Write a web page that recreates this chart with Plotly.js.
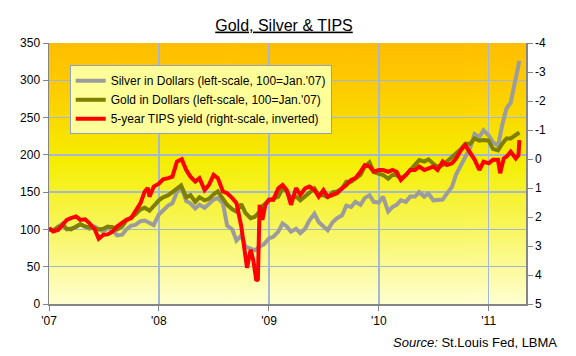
<!DOCTYPE html>
<html><head><meta charset="utf-8">
<script src="https://cdn.plot.ly/plotly-3.0.1.min.js"></script>
<style>html,body{margin:0;padding:0;background:#fff}#chart{width:576px;height:356px}</style>
</head><body><div id="chart"></div>
<script>
const metalDates = [
'2007-01-01','2007-01-15','2007-02-01','2007-02-15','2007-03-01','2007-03-15','2007-04-01','2007-04-15','2007-05-01','2007-05-15','2007-06-01','2007-06-15','2007-07-01','2007-07-15','2007-08-01','2007-08-15','2007-09-01','2007-09-15','2007-10-01','2007-10-15','2007-11-01','2007-11-15','2007-12-01','2007-12-15',
'2008-01-01','2008-01-15','2008-02-01','2008-02-15','2008-03-01','2008-03-15','2008-04-01','2008-04-15','2008-05-01','2008-05-15','2008-06-01','2008-06-15','2008-07-01','2008-07-15','2008-08-01','2008-08-15','2008-09-01','2008-09-15','2008-10-01','2008-10-15','2008-11-01','2008-11-15','2008-12-01','2008-12-15',
'2009-01-01','2009-01-15','2009-02-01','2009-02-15','2009-03-01','2009-03-15','2009-04-01','2009-04-15','2009-05-01','2009-05-15','2009-06-01','2009-06-15','2009-07-01','2009-07-15','2009-08-01','2009-08-15','2009-09-01','2009-09-15','2009-10-01','2009-10-15','2009-11-01','2009-11-15','2009-12-01','2009-12-15',
'2010-01-01','2010-01-15','2010-02-01','2010-02-15','2010-03-01','2010-03-15','2010-04-01','2010-04-15','2010-05-01','2010-05-15','2010-06-01','2010-06-15','2010-07-01','2010-07-15','2010-08-01','2010-08-15','2010-09-01','2010-09-15','2010-10-01','2010-10-15','2010-11-01','2010-11-15','2010-12-01','2010-12-15',
'2011-01-01','2011-01-15','2011-02-01','2011-02-15','2011-03-01','2011-03-15','2011-04-01','2011-04-13'];

const silverIndex = [
100,98,104,108,100,101,103,107,104,101,104,101,97,102,99,92,93,100,105,106,111,112,108,106,
120,125,132,135,150,157,138,135,128,133,129,134,140,142,135,105,100,85,92,77,75,72,77,80,
88,90,97,108,104,97,101,95,101,112,121,110,104,99,110,115,119,132,130,137,133,142,146,137,
136,144,124,130,133,139,137,144,144,150,144,148,139,139,140,148,157,174,186,199,210,228,224,233,
226,217,212,240,262,270,300,326];

const goldIndex = [
100,99,103,105,101,100,104,107,104,103,101,100,101,104,103,100,104,112,116,120,127,129,125,132,
139,143,146,150,155,159,143,146,137,143,139,141,147,151,141,133,127,124,134,122,115,117,124,133,
139,141,144,155,151,142,144,139,144,150,155,146,146,143,150,151,155,164,164,168,173,184,190,177,
175,173,168,173,173,168,173,179,186,193,191,194,188,184,186,191,197,202,208,215,215,222,219,220,
219,208,206,215,222,222,226,230];

const tipsDates = [
'2007-01-01','2007-01-15','2007-02-01','2007-02-15','2007-03-01','2007-03-15','2007-04-01','2007-04-15','2007-05-01','2007-05-15','2007-06-01','2007-06-15','2007-07-01','2007-07-15','2007-08-01','2007-08-15','2007-09-01','2007-09-15','2007-10-01','2007-10-15','2007-11-01','2007-11-15','2007-11-25','2007-12-01','2007-12-15',
'2008-01-01','2008-01-15','2008-02-01','2008-02-15','2008-03-01','2008-03-17','2008-04-01','2008-04-15','2008-05-01','2008-05-15','2008-06-01','2008-06-15','2008-07-01','2008-07-15','2008-08-01','2008-08-15','2008-09-01','2008-09-15','2008-10-01','2008-10-10','2008-10-20','2008-11-01','2008-11-10','2008-11-20','2008-11-25','2008-12-01','2008-12-10','2008-12-20',
'2009-01-01','2009-01-15','2009-02-01','2009-02-15','2009-03-01','2009-03-15','2009-04-01','2009-04-15','2009-05-01','2009-05-15','2009-06-01','2009-06-15','2009-07-01','2009-07-15','2009-08-01','2009-08-15','2009-09-01','2009-09-15','2009-10-01','2009-10-15','2009-11-01','2009-11-15','2009-12-01','2009-12-15',
'2010-01-01','2010-01-15','2010-02-01','2010-02-15','2010-03-01','2010-03-15','2010-04-01','2010-04-15','2010-05-01','2010-05-15','2010-06-01','2010-06-15','2010-07-01','2010-07-15','2010-08-01','2010-08-15','2010-09-01','2010-09-15','2010-10-01','2010-10-15','2010-11-01','2010-11-15','2010-12-01','2010-12-15',
'2011-01-01','2011-01-15','2011-02-01','2011-02-08','2011-02-20','2011-03-01','2011-03-15','2011-04-01','2011-04-10','2011-04-13'];

const tipsYield = [
2.38,2.5,2.44,2.25,2.1,2.04,1.98,2.1,2.08,2.21,2.4,2.75,2.61,2.6,2.5,2.33,2.21,2.1,2.04,1.81,1.52,1.12,1.0,1.3,0.95,
0.85,0.7,0.66,0.61,0.09,0.01,0.38,0.61,0.78,0.66,1.07,0.9,0.55,0.66,1.12,1.18,1.35,1.52,2.33,3.1,3.75,3.13,3.5,4.2,4.15,1.58,2.1,1.58,
1.4,1.41,1.01,0.9,1.07,1.58,1.0,1.24,1.01,0.95,1.07,1.3,1.07,1.3,1.24,1.18,1.01,0.9,0.72,0.66,0.44,0.21,0.26,0.44,
0.38,0.38,0.44,0.38,0.44,0.72,0.55,0.38,0.38,0.26,0.38,0.32,0.26,0.38,0.09,0.21,0.15,-0.02,-0.31,-0.48,-0.19,0.02,0.38,0.09,
0.15,0.03,0.03,0.49,-0.02,-0.08,-0.25,-0.02,-0.14,-0.65];

const yearTicks = ['2007-01-01','2008-01-01','2009-01-01','2010-01-01','2011-01-01'];
const yearLabels = ["'07","'08","'09","'10","'11"];
const rightTicks = [-4,-3,-2,-1,0,1,2,3,4,5];
const rightLabels = ['-4','-3','-2','-1','0','1','2','3','4','5'];
const seriesNames = ["Silver in Dollars (left-scale, 100=Jan.'07)","Gold in Dollars (left-scale, 100=Jan.'07)","5-year TIPS yield (right-scale, inverted)"];

// background gradient
const cv = document.createElement('canvas');
cv.width = 4; cv.height = 262;
const cx = cv.getContext('2d');
const g = cx.createLinearGradient(0,0,0,262);
g.addColorStop(0,'#FFBE00');
g.addColorStop(0.18,'#FDCD00');
g.addColorStop(0.45,'#F5EE00');
g.addColorStop(0.7,'#F8F65A');
g.addColorStop(1,'#FFFFD2');
cx.fillStyle = g; cx.fillRect(0,0,4,262);
const grad = cv.toDataURL('image/png');

const gridC = '#A3B7D6', axC = '#858585';
const traces = [
 {x:metalDates, y:silverIndex, name:seriesNames[0], type:'scatter', mode:'lines', line:{color:'#9C9C9C', width:4}},
 {x:metalDates, y:goldIndex, name:seriesNames[1], type:'scatter', mode:'lines', line:{color:'#7F7F00', width:4}},
 {x:tipsDates, y:tipsYield, name:seriesNames[2], type:'scatter', mode:'lines', yaxis:'y2', line:{color:'#FF0000', width:4}}
];
const layout = {
 width:576, height:356,
 margin:{l:49, r:50, t:43, b:52, pad:0},
 paper_bgcolor:'#ffffff', plot_bgcolor:'rgba(0,0,0,0)',
 font:{family:'Arial, "Liberation Sans", sans-serif', size:12, color:'#000'},
 title:{text:'<u>Gold, Silver &amp; TIPS</u>', x:284/576, xanchor:'center', y:1-25/356, yanchor:'middle', font:{size:16, color:'#000'}},
 showlegend:true,
 xaxis:{type:'date', range:['2007-01-01','2011-05-05'], tickvals:yearTicks, ticktext:yearLabels, showgrid:true, gridcolor:gridC, gridwidth:1.5,
   showline:true, linecolor:axC, linewidth:1.5, ticks:'outside', ticklen:5, tickcolor:axC, zeroline:false, fixedrange:true},
 yaxis:{range:[0,350], tickvals:[0,50,100,150,200,250,300,350], showgrid:true, gridcolor:gridC, gridwidth:1.5,
   showline:true, linecolor:axC, linewidth:1.5, ticks:'outside', ticklen:5, tickcolor:axC, zeroline:false, fixedrange:true},
 yaxis2:{overlaying:'y', side:'right', range:[5,-4], tickvals:rightTicks, ticktext:rightLabels, showgrid:false,
   showline:true, linecolor:axC, linewidth:1.5, ticks:'outside', ticklen:5, tickcolor:axC, zeroline:false, fixedrange:true},
 legend:{x:(70-49.3)/477, y:(304.3-65)/261.6, xanchor:'left', yanchor:'top', bgcolor:'#FFFF99', bordercolor:'#8FA2C2', borderwidth:1,
   font:{size:12, color:'#000'}, traceorder:'normal', itemwidth:30},
 images:[{source:grad, xref:'paper', yref:'paper', x:0, y:1, sizex:1, sizey:1, sizing:'stretch', xanchor:'left', yanchor:'top', layer:'below'}],
 annotations:[{text:'<i>Source:</i> St.Louis Fed, LBMA', xref:'paper', yref:'paper', x:(559-49.3)/477, y:(304.3-343)/261.6,
   xanchor:'right', yanchor:'middle', showarrow:false, font:{size:13, color:'#000'}}]
};
Plotly.newPlot('chart', traces, layout, {displayModeBar:false, staticPlot:true});
</script></body></html>
